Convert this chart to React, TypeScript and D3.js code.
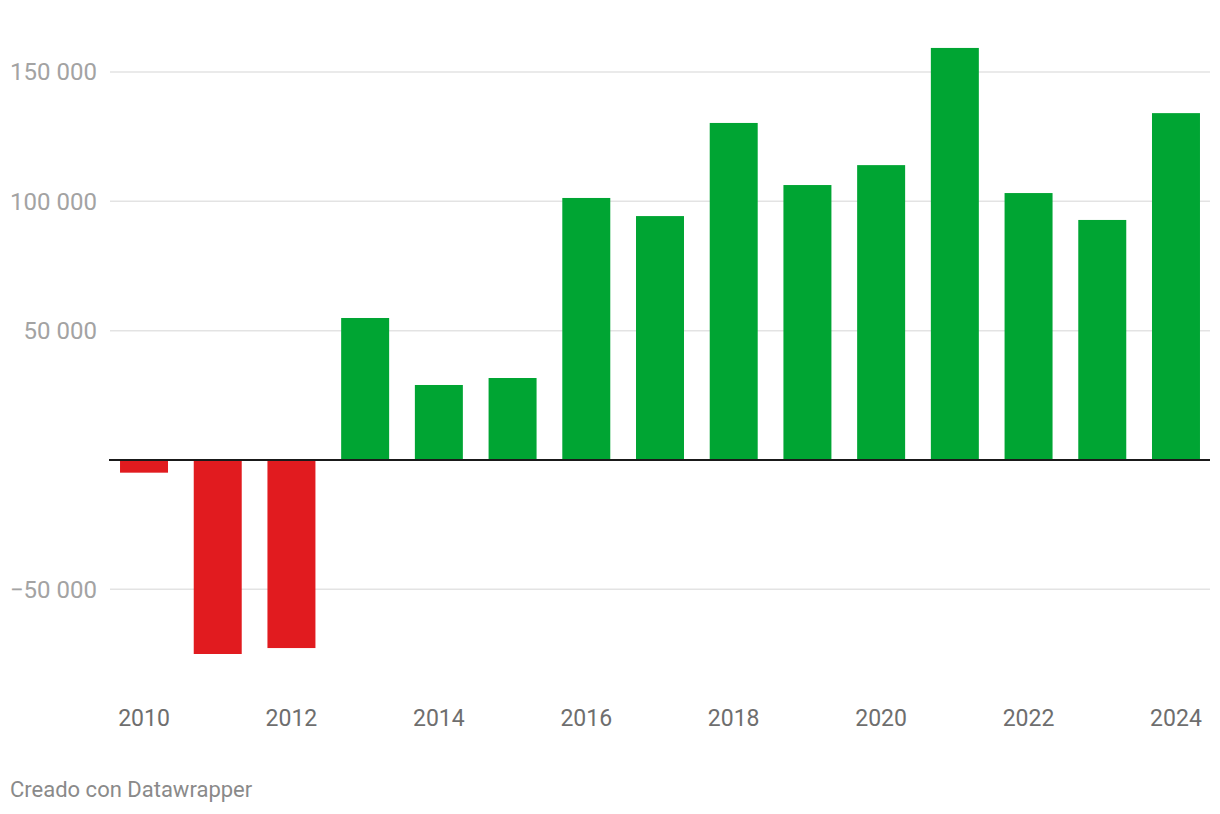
import React from "react";
import * as d3 from "d3";

const years = ["2010","2011","2012","2013","2014","2015","2016","2017","2018","2019","2020","2021","2022","2023","2024"];
const values = [-4900,-75000,-72700,54900,29000,31700,101300,94300,130300,106300,114000,159300,103200,92800,134100];
const yTicks = [-50000, 50000, 100000, 150000];
const xLabelYears = ["2010","2012","2014","2016","2018","2020","2022","2024"];

const W = 1220, H = 814;
const FONT = "Roboto, sans-serif";

export default function App() {
  const x = d3.scaleBand<string>().domain(years).range([110, 1210]).paddingInner(0.349).paddingOuter(0.136);
  const y = d3.scaleLinear().domain([0, 150000]).range([460, 72]);
  const fmt = (v: number) => {
    const s = d3.format(",")(Math.abs(v)).replace(/,/g, " ");
    return (v < 0 ? "\u2212" : "") + s;
  };
  return (
    <svg width={W} height={H} style={{ position: "absolute", left: 0, top: 0, background: "#fff" }}>
      {yTicks.map((t) => (
        <g key={t}>
          <line x1={110} x2={1210} y1={y(t)} y2={y(t)} stroke="#e3e3e3" strokeWidth={1.5} />
          <text x={97} y={y(t)} dy="0.35em" textAnchor="end" fontFamily={FONT} fontSize={24} fill="#a3a3a3">{fmt(t)}</text>
        </g>
      ))}
      {years.map((yr, i) => {
        const v = values[i];
        return (
          <rect key={yr} x={x(yr)} width={x.bandwidth()} y={Math.min(y(0), y(v))} height={Math.abs(y(v) - y(0))}
            fill={v < 0 ? "#e11b1f" : "#00a533"} />
        );
      })}
      <line x1={109} x2={1210} y1={y(0)} y2={y(0)} stroke="#1a1a1a" strokeWidth={2} />
      {xLabelYears.map((yr) => (
        <text key={yr} x={(x(yr) as number) + x.bandwidth() / 2} y={726} textAnchor="middle" fontFamily={FONT} fontSize={23} fill="#6e6e6e">{yr}</text>
      ))}
      <text x={10} y={797} fontFamily={FONT} fontSize={22} fill="#8a8a8a">Creado con Datawrapper</text>
    </svg>
  );
}
